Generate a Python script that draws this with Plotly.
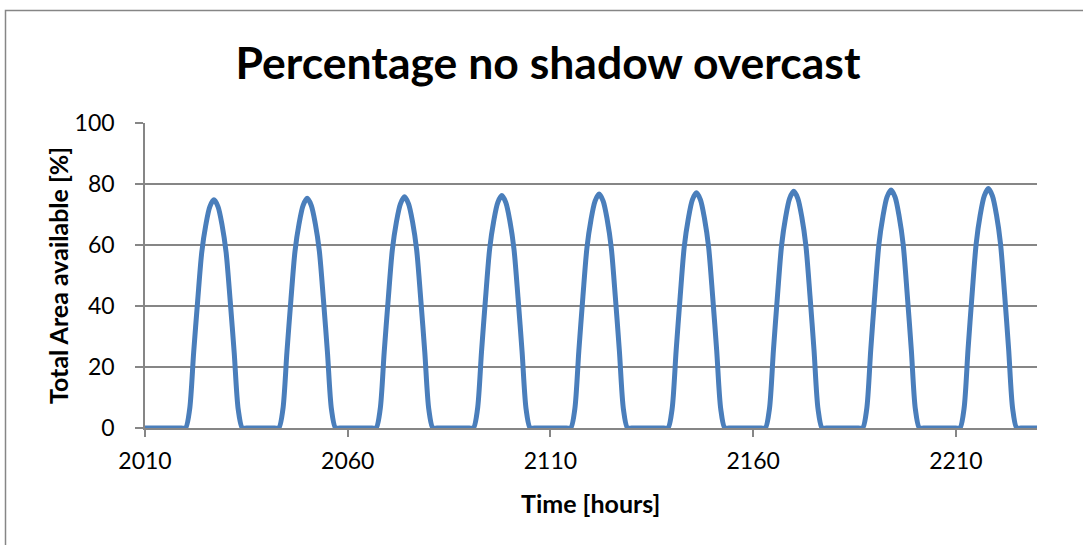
import plotly.graph_objects as go

# Time axis (hours) and available area (%)
hours = list(range(2010, 2231))

day1 = [6.0, 24.7, 41.9, 57.6, 66.6, 72.6, 74.8, 72.6, 66.6, 57.6, 41.9, 24.7, 6.0]
day2 = [6.0, 24.8, 42.2, 58.0, 67.0, 73.0, 75.3, 73.0, 67.0, 58.0, 42.2, 24.8, 6.0]
day3 = [6.1, 25.0, 42.4, 58.4, 67.5, 73.5, 75.8, 73.5, 67.5, 58.4, 42.4, 25.0, 6.1]
day4 = [6.1, 25.1, 42.7, 58.7, 67.8, 73.9, 76.2, 73.9, 67.8, 58.7, 42.7, 25.1, 6.1]
day5 = [6.1, 25.3, 43.0, 59.1, 68.3, 74.4, 76.7, 74.4, 68.3, 59.1, 43.0, 25.3, 6.1]
day6 = [6.2, 25.4, 43.2, 59.4, 68.6, 74.8, 77.1, 74.8, 68.6, 59.4, 43.2, 25.4, 6.2]
day7 = [6.2, 25.6, 43.5, 59.8, 69.1, 75.3, 77.6, 75.3, 69.1, 59.8, 43.5, 25.6, 6.2]
day8 = [6.2, 25.7, 43.7, 60.1, 69.4, 75.7, 78.0, 75.7, 69.4, 60.1, 43.7, 25.7, 6.2]
day9 = [6.3, 25.9, 44.0, 60.4, 69.9, 76.1, 78.5, 76.1, 69.9, 60.4, 44.0, 25.9, 6.3]

area = ([0] * 11 + day1 + [0] * 10 + day2 + [0] * 11 + day3 + [0] * 11 + day4
        + [0] * 11 + day5 + [0] * 11 + day6 + [0] * 11 + day7 + [0] * 11 + day8
        + [0] * 11 + day9 + [0] * 6)

x_ticks = [2010, 2060, 2110, 2160, 2210]
y_ticks = [0, 20, 40, 60, 80, 100]

title_text = "Percentage no shadow overcast"
x_title = "Time [hours]"
y_title = "Total Area available [%]"

FONT = "Lato"
GRID = "#868686"
L, R, T, B = 145, 46, 123, 117
PW, PH = 1083 - L - R, 545 - T - B

fig = go.Figure()
fig.add_trace(go.Scatter(
    x=hours, y=area, mode="lines",
    line=dict(color="#4A7EBB", width=5, shape="spline", smoothing=0.8),
    hoverinfo="x+y", showlegend=False,
))

fig.update_layout(
    width=1083, height=545,
    margin=dict(l=L, r=R, t=T, b=B),
    paper_bgcolor="white", plot_bgcolor="white",
    font=dict(family=FONT, color="black"),
    title=dict(text="<b>" + title_text + "</b>", x=(548) / 1083, xanchor="center",
               y=1 - 63 / 545, yanchor="middle",
               font=dict(family=FONT, size=44.5, color="black")),
    xaxis=dict(
        range=[2010, 2230], tickmode="array", tickvals=x_ticks,
        ticktext=[str(v) for v in x_ticks],
        showgrid=False, zeroline=False,
        showline=True, linecolor=GRID, linewidth=1.5,
        ticks="outside", ticklen=7, tickcolor=GRID, tickwidth=1.5,
        tickfont=dict(family=FONT, size=23, color="black"),
        ticklabelstandoff=5,
    ),
    yaxis=dict(
        range=[0, 100], tickmode="array", tickvals=y_ticks,
        showgrid=True, gridcolor=GRID, gridwidth=1.5, zeroline=False,
        showline=True, linecolor=GRID, linewidth=1.5,
        ticks="outside", ticklen=8, tickcolor=GRID, tickwidth=1.5,
        tickfont=dict(family=FONT, size=23, color="black"),
        ticklabelstandoff=16,
    ),
    annotations=[
        dict(text="<b>" + x_title + "</b>", xref="paper", yref="paper",
             x=(590 - L) / PW, y=(428 - 503) / PH, xanchor="center", yanchor="middle",
             showarrow=False, font=dict(family=FONT, size=25, color="black")),
        dict(text="<b>" + y_title + "</b>", xref="paper", yref="paper",
             x=(58 - L) / PW, y=(428 - 276) / PH, xanchor="center", yanchor="middle",
             textangle=-90, showarrow=False,
             font=dict(family=FONT, size=25, color="black")),
    ],
    shapes=[dict(
        type="rect", xref="paper", yref="paper",
        x0=(5.5 - L) / PW, x1=(1095 - L) / PW,
        y0=(428 - 560) / PH, y1=(428 - 10.5) / PH,
        line=dict(color=GRID, width=1.5), fillcolor="rgba(0,0,0,0)",
        layer="below",
    )],
)

fig.write_html("out.html")
